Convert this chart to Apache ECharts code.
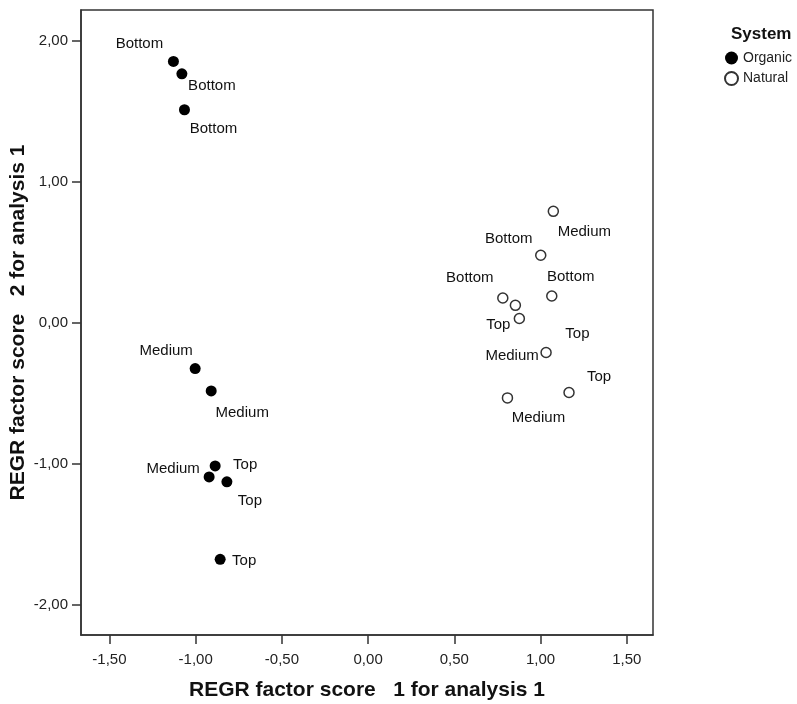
<!DOCTYPE html>
<html>
<head>
<meta charset="utf-8">
<script src="https://cdn.jsdelivr.net/npm/echarts@6/dist/echarts.min.js"></script>
<style>html,body{margin:0;padding:0;background:#fff}#c{width:797px;height:704px}</style>
</head>
<body>
<div id="c"></div>
<script>
// ---- data ----
var organicX = [-1.129, -1.080, -1.065, -1.003, -0.910, -0.922, -0.887, -0.819, -0.858];
var organicY = [1.855, 1.767, 1.512, -0.325, -0.484, -1.094, -1.016, -1.129, -1.679];
var organicLabels = ['Bottom', 'Bottom', 'Bottom', 'Medium', 'Medium', 'Medium', 'Top', 'Top', 'Top'];

var naturalX = [1.074, 1.001, 0.781, 0.854, 1.065, 0.877, 1.032, 1.165, 0.808];
var naturalY = [0.791, 0.479, 0.176, 0.124, 0.190, 0.030, -0.211, -0.495, -0.533];
var naturalLabels = ['Medium', 'Bottom', 'Bottom', 'Top', 'Bottom', 'Top', 'Medium', 'Top', 'Medium'];

var xTicks = [-1.5, -1.0, -0.5, 0.0, 0.5, 1.0, 1.5];
var yTicks = [-2.0, -1.0, 0.0, 1.0, 2.0];

var seriesNames = ['Organic', 'Natural'];
var legendTitle = 'System';
var xTitle = 'REGR factor score   1 for analysis 1';
var yTitle = 'REGR factor score   2 for analysis 1';

// ---- label placement (style) ----
var organicOffsets = [[-34,-18],[30,12],[29,19],[-29,-18],[31,22],[-36,-8],[30,-1],[23,19],[24,2]];
var naturalOffsets = [[31,21],[-32,-16],[-33,-20],[62,29],[19,-19],[-21,6],[-34,3],[30,-16],[31,20]];

function fmt(v){ return v.toFixed(2).replace('.', ','); }

function build(xs, ys, labels, offs){
  return xs.map(function(x, i){
    return {
      value: [x, ys[i]],
      label: { show: true, formatter: labels[i], position: 'inside', offset: offs[i],
               align: 'center', verticalAlign: 'middle' }
    };
  });
}

var FONT = 'Liberation Sans, Arial, sans-serif';
var chart = echarts.init(document.getElementById('c'), null, {renderer: 'canvas'});
chart.setOption({
  animation: false,
  backgroundColor: '#fff',
  textStyle: { fontFamily: FONT },
  title: {
    text: legendTitle, left: 726, top: 21,
    textStyle: { fontFamily: FONT, fontSize: 17, fontWeight: 'bold', color: '#111' }
  },
  legend: {
    orient: 'vertical', left: 724, top: 51, itemGap: 6, itemWidth: 13, itemHeight: 13,
    itemTextGap: 2, padding: 0,
    data: [
      { name: seriesNames[0], icon: 'circle' },
      { name: seriesNames[1], icon: 'circle' }
    ],
    textStyle: { fontFamily: FONT, fontSize: 14, color: '#222' }
  },
  grid: {
    left: 81, right: 144, top: 10, bottom: 69, show: true, containLabel: false,
    outerBoundsMode: 'none',
    borderColor: '#333', borderWidth: 1.5, backgroundColor: '#fff'
  },
  xAxis: {
    type: 'value', min: -1.665, max: 1.652,
    name: xTitle, nameLocation: 'middle', nameGap: 45, nameMoveOverlap: false,
    nameTextStyle: { fontFamily: FONT, fontSize: 21, fontWeight: 'bold', color: '#111' },
    axisLine: { show: true, onZero: false, lineStyle: { color: '#333', width: 1.5 } },
    axisTick: { show: true, inside: false, length: 9, customValues: xTicks, lineStyle: { color: '#333', width: 1.5 } },
    axisLabel: { customValues: xTicks, formatter: fmt, margin: 17, fontFamily: FONT, fontSize: 15, color: '#222' },
    splitLine: { show: false }
  },
  yAxis: {
    type: 'value', min: -2.216, max: 2.22,
    name: yTitle, nameLocation: 'middle', nameGap: 52, nameRotate: 90, nameMoveOverlap: false,
    nameTextStyle: { fontFamily: FONT, fontSize: 21, fontWeight: 'bold', color: '#111' },
    axisLine: { show: true, onZero: false, lineStyle: { color: '#333', width: 1.5 } },
    axisTick: { show: true, inside: false, length: 9, customValues: yTicks, lineStyle: { color: '#333', width: 1.5 } },
    axisLabel: { customValues: yTicks, formatter: fmt, margin: 13, fontFamily: FONT, fontSize: 15, color: '#222' },
    splitLine: { show: false }
  },
  series: [
    {
      name: seriesNames[0], type: 'scatter', symbol: 'circle', symbolSize: 11,
      itemStyle: { color: '#000', borderColor: '#000', borderWidth: 0, opacity: 1 },
      label: { fontFamily: FONT, fontSize: 15, color: '#111' },
      data: build(organicX, organicY, organicLabels, organicOffsets)
    },
    {
      name: seriesNames[1], type: 'scatter', symbol: 'circle', symbolSize: 10,
      itemStyle: { color: '#fff', borderColor: '#333', borderWidth: 1.5, opacity: 1 },
      label: { fontFamily: FONT, fontSize: 15, color: '#111' },
      data: build(naturalX, naturalY, naturalLabels, naturalOffsets)
    }
  ]
});
</script>
</body>
</html>
